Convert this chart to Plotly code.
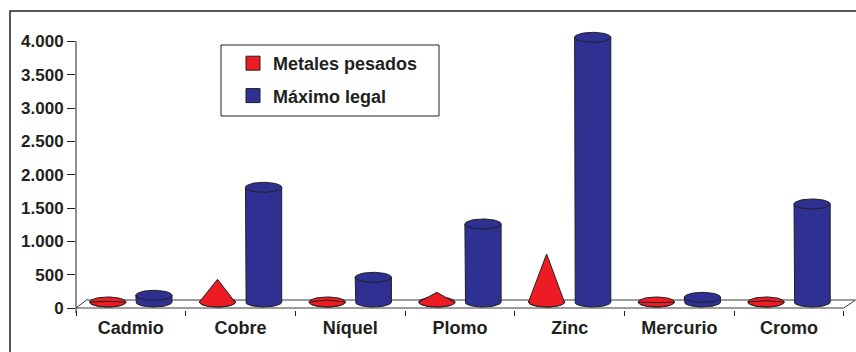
import numpy as np
import plotly.graph_objects as go

# Data
categories = ["Cadmio", "Cobre", "Níquel", "Plomo", "Zinc", "Mercurio", "Cromo"]
metales_pesados = [40, 370, 60, 175, 750, 20, 50]
maximo_legal = [130, 1750, 400, 1200, 4000, 100, 1500]

RED = "#ED1C24"
BLUE = "#2E3192"
INK = "#231F20"

# Pseudo-3D geometry (x in category units, y in value units)
OFFSET = 0.21   # distance of each column from the category centre
RX = 0.165      # horizontal radius of the column ellipses
RY = 75         # vertical radius of the column ellipses
BASE = 90       # centre of the column base ellipse
LIFT = 60       # depth lift applied to the column top
DEPTH_X = 0.095 # floor depth, x
DEPTH_Y = 120   # floor depth, y

t_full = np.linspace(0, 2 * np.pi, 49)
t_low = np.linspace(np.pi, 2 * np.pi, 25)


def ellipse(xc, yc):
    return list(xc + RX * np.cos(t_full)), list(yc + RY * np.sin(t_full))


def cylinder_body(xc, top):
    xs = [xc - RX, xc - RX]
    ys = [top, BASE]
    xs += list(xc + RX * np.cos(t_low))
    ys += list(BASE + RY * np.sin(t_low))
    xs += [xc + RX, xc - RX]
    ys += [top, top]
    return xs, ys


def cone_body(xc, apex):
    xs = [xc, xc + RX]
    ys = [apex, BASE]
    xs += list(xc + RX * np.cos(t_low[::-1]))
    ys += list(BASE + RY * np.sin(t_low[::-1]))
    xs += [xc - RX, xc]
    ys += [BASE, apex]
    return xs, ys


def join(parts):
    X, Y = [], []
    for xs, ys in parts:
        X += list(xs) + [None]
        Y += list(ys) + [None]
    return X, Y


idx = np.arange(len(categories))
red_x = idx - OFFSET
blue_x = idx + OFFSET

fig = go.Figure()

# Floor of the 3D frame
n = len(categories)
fx = [-0.5, n - 0.5, None, -0.5, -0.5 + DEPTH_X, n - 0.5 + DEPTH_X + 0.01, n - 0.5, None]
fy = [0, 0, None, 0, DEPTH_Y, DEPTH_Y, 0, None]
fig.add_trace(go.Scatter(x=fx, y=fy, mode="lines", line=dict(color="#3a3a3a", width=1),
                         hoverinfo="skip", showlegend=False))

# Red cones: base ellipse, then cone body
bx, by = join([ellipse(x, BASE) for x in red_x])
fig.add_trace(go.Scatter(x=bx, y=by, mode="lines", fill="toself", fillcolor=RED,
                         line=dict(color=INK, width=1), hoverinfo="skip", showlegend=False))
cx, cy = join([cone_body(x, v + LIFT) for x, v in zip(red_x, metales_pesados)])
fig.add_trace(go.Scatter(x=cx, y=cy, mode="lines", fill="toself", fillcolor=RED,
                         line=dict(color=INK, width=1), name="Metales pesados",
                         hoverinfo="skip", showlegend=False))

# Blue cylinders: body, then top ellipse
sx, sy = join([cylinder_body(x, v + LIFT) for x, v in zip(blue_x, maximo_legal)])
fig.add_trace(go.Scatter(x=sx, y=sy, mode="lines", fill="toself", fillcolor=BLUE,
                         line=dict(color=INK, width=1), name="Máximo legal",
                         hoverinfo="skip", showlegend=False))
tx, ty = join([ellipse(x, v + LIFT) for x, v in zip(blue_x, maximo_legal)])
fig.add_trace(go.Scatter(x=tx, y=ty, mode="lines", fill="toself", fillcolor=BLUE,
                         line=dict(color=INK, width=1), hoverinfo="skip", showlegend=False))

# Legend entries
for name, col, grp in [("Metales pesados", RED, "a"), ("Máximo legal", BLUE, "b")]:
    fig.add_trace(go.Scatter(x=[None], y=[None], mode="markers", name=name, legendgroup=grp,
                             marker=dict(symbol="square", size=14, color=col,
                                         line=dict(color=INK, width=1))))

L, R, T, B = 76, 0, 30, 42
W, H = 856, 352
pw, ph = W - L - R, H - T - B

def px_x(p):
    return (p - L) / pw

def px_y(p):
    return (H - B - p) / ph

fig.update_layout(
    width=W, height=H,
    margin=dict(l=L, r=R, t=T, b=B),
    paper_bgcolor="white", plot_bgcolor="white",
    separators=",.",
    font=dict(family="Liberation Sans, Arial, sans-serif", color=INK, size=17),
    showlegend=True,
    legend=dict(x=px_x(221), y=px_y(45), xanchor="left", yanchor="top",
                bgcolor="rgba(0,0,0,0)", borderwidth=0,
                font=dict(size=18, weight="bold", color=INK),
                tracegroupgap=6, traceorder="grouped", indentation=12,
                itemsizing="trace"),
    xaxis=dict(range=[-0.5, n - 0.5 + 0.11], tickmode="array", tickvals=list(idx),
               ticktext=categories, ticks="", showgrid=False, zeroline=False, showline=False,
               tickfont=dict(size=18, weight="bold", color=INK), ticklabelstandoff=5,
               minor=dict(tickmode="linear", tick0=-0.5, dtick=1, ticks="outside",
                          ticklen=5, tickcolor=INK, tickwidth=1, showgrid=False),
               fixedrange=True),
    yaxis=dict(range=[-30, 4170], tickmode="array", tickvals=list(range(0, 4001, 500)),
               tickformat=",d", ticks="outside", ticklen=8, tickcolor=INK, tickwidth=1,
               showgrid=False, zeroline=False, showline=False,
               tickfont=dict(size=17, weight="bold", color=INK), fixedrange=True),
    shapes=[
        # legend frame
        dict(type="rect", xref="paper", yref="paper", x0=px_x(221), x1=px_x(439),
             y0=px_y(116), y1=px_y(45), line=dict(color=INK, width=1),
             fillcolor="white", layer="below"),
        # value axis line
        dict(type="line", xref="paper", yref="paper", x0=0, x1=0,
             y0=px_y(313), y1=px_y(41), line=dict(color=INK, width=1)),
        # outer frame
        dict(type="rect", xref="paper", yref="paper", x0=px_x(10), x1=px_x(W + 5),
             y0=px_y(H + 10), y1=px_y(11), line=dict(color=INK, width=1.5)),
    ],
)

fig.write_html("out.html")
